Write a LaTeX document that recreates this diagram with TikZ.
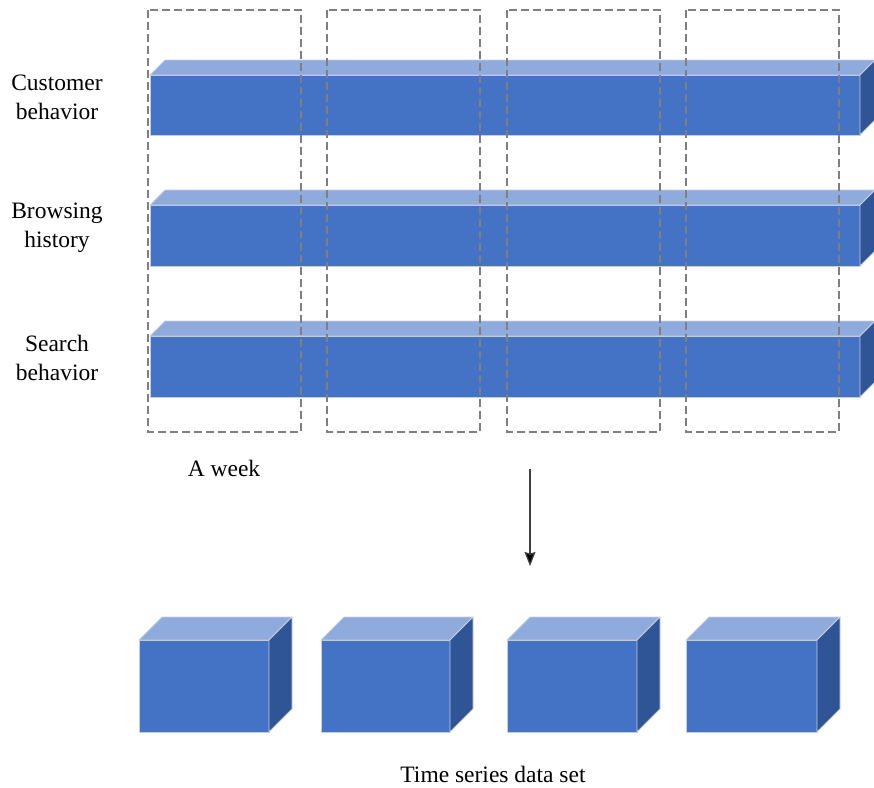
\documentclass[tikz,border=0pt]{standalone}
\usepackage{fontspec}
\setmainfont{Liberation Serif}
\usetikzlibrary{arrows.meta}
\definecolor{frontc}{HTML}{4472C4}
\definecolor{topc}{HTML}{8FAADC}
\definecolor{sidec}{HTML}{2F5597}
\definecolor{edgec}{HTML}{C5CEDD}
\definecolor{dashc}{HTML}{7F7F7F}
\tikzset{
  face/.style={draw=edgec, line width=0.9pt, line join=round},
  weekbox/.style={draw=dashc, line width=1.5pt, dash pattern=on 8pt off 4pt},
  lbl/.style={font=\fontsize{23.5}{29}\selectfont, align=center, inner sep=0pt},
}
% bar: x1 x2 ytop ybottom depth
\newcommand{\mybar}[5]{%
  \fill[frontc,face] (#1,#3) rectangle (#2,#4);
  \fill[topc,face] (#1,#3) -- ++(#5,-#5) -- (#2+#5,#3-#5) -- (#2,#3) -- cycle;
  \fill[sidec,face] (#2,#3) -- (#2+#5,#3-#5) -- (#2+#5,#4-#5) -- (#2,#4) -- cycle;
}
\begin{document}
\begin{tikzpicture}[x=1pt,y=-1pt]
\useasboundingbox (0,0) rectangle (874,787);
% bars
\mybar{150}{860}{75}{135}{15}
\mybar{150}{860}{205}{266}{15}
\mybar{150}{860}{336}{397}{15}
% week boxes
\draw[weekbox] (148,10) rectangle (301,432);
\draw[weekbox] (327,10) rectangle (480,432);
\draw[weekbox] (507,10) rectangle (660,432);
\draw[weekbox] (686,10) rectangle (839,432);
% labels
\node[lbl] (l1) at (57,97) {Customer\\behavior};
\node[lbl] (l2) at (57,228) {Browsing\\history};
\node[lbl] (l3) at (57,358) {Search\\behavior};
\node[lbl] (wk) at (224,468) {A week};
% arrow
\coordinate (a1) at (530,469);
\coordinate (a2) at (530,566);
\draw[line width=1.3pt, draw=black!75, -{Stealth[inset=1.5pt,length=14pt,width=11pt,fill=black]}] (a1) -- (a2);
% cubes
\mybar{139}{269}{640}{732}{23}
\mybar{321}{450}{640}{732}{23}
\mybar{507}{637}{640}{732}{23}
\mybar{686}{817}{640}{732}{23}
\node[lbl] (ts) at (493,774) {Time series data set};
\end{tikzpicture}
\end{document}
